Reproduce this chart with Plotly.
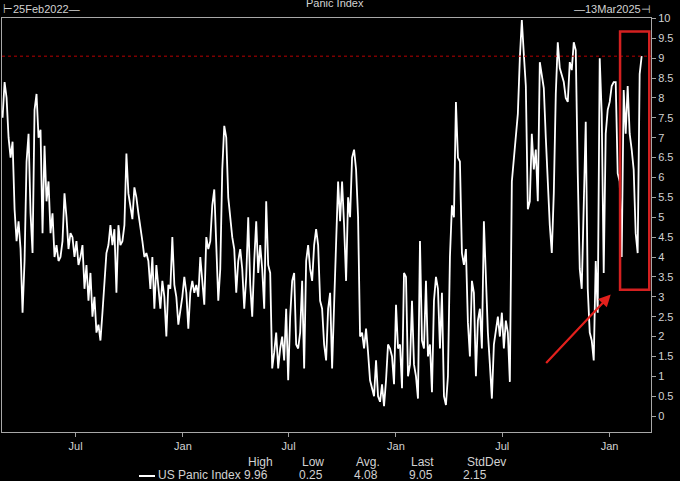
import pandas as pd
import plotly.graph_objects as go

# ---- data (US Panic Index, roughly every 3.4 days) ----
seg_2022a = [7.5, 8.4, 8.0, 7.0, 6.5, 6.9, 5.2, 4.4, 4.9, 4.2, 2.6, 3.9, 6.4, 7.1, 5.1, 4.1,
             7.7, 8.1, 7.0, 7.2, 4.6, 6.8, 5.4, 5.9, 4.6, 5.1, 4.0, 4.3, 3.9, 4.0, 4.4, 5.6,
             5.0, 4.2, 4.6, 4.5, 4.0, 4.4, 3.8, 4.0, 4.3, 3.2, 3.8, 2.9, 3.6, 2.5, 3.0, 2.1,
             2.3, 1.9, 2.6, 3.3, 4.1, 4.3, 4.8, 4.3, 4.7, 3.1, 4.8, 4.3, 4.4, 4.8, 6.6, 5.6,
             5.3, 4.95]
seg_2022b = [5.75, 5.5, 5.1, 4.8, 4.4, 4.0, 4.1, 3.9, 3.2, 4.0, 2.7, 3.8, 3.2, 2.7, 3.4, 3.0,
             2.0, 3.3, 3.2, 4.5, 3.3, 3.0, 2.3, 2.6, 3.0, 3.5, 3.1, 2.2, 3.1, 3.4, 3.1, 3.3,
             3.0, 4.0, 3.4, 2.8, 4.5, 4.2, 4.4, 5.3, 5.7, 4.2, 2.9, 3.7, 6.2, 7.3, 7.0, 5.5,
             4.9, 4.5, 4.2, 3.1, 3.9, 4.2, 3.7, 2.7, 3.5, 5.0, 3.3, 2.5, 3.9, 4.9, 3.6, 4.3,
             3.7]
seg_2023 = [2.7, 5.4, 3.8, 3.6, 1.2, 1.6, 2.1, 1.2, 1.7, 2.0, 1.4, 2.7, 0.9, 2.5, 3.4, 3.6,
            1.8, 1.7, 2.1, 3.4, 1.2, 3.9, 4.3, 3.7, 3.4, 4.3, 4.7, 4.3, 2.9, 2.7, 1.8, 1.4,
            2.7, 3.1, 1.2, 2.8, 4.6, 5.9, 4.9, 5.9, 4.8, 3.4, 5.5, 5.0, 6.5, 6.7, 6.2, 5.0,
            2.0, 2.1, 1.7, 2.2, 1.6, 0.9, 0.7, 0.5, 1.4, 0.5, 0.36, 0.8, 0.25, 0.9, 1.8, 1.7]
seg_2024a = [1.5, 0.8, 2.8, 1.7, 1.8, 0.7, 3.6, 3.5, 1.0, 1.3, 2.9, 1.3, 1.0, 0.44, 4.4, 1.9,
             1.7, 3.4, 1.5, 1.8, 0.6, 2.9, 3.5, 3.2, 1.7, 3.1, 0.5, 0.28, 1.0, 4.0, 5.3, 5.0,
             7.9, 6.5, 6.4, 4.1, 3.8, 4.2, 2.35, 1.5, 3.4, 3.1, 1.0, 2.4, 2.7, 1.7, 4.9, 3.4,
             2.1, 1.3, 0.44, 1.8, 2.2, 2.5, 2.0, 2.6, 1.7, 2.4, 2.1, 0.86, 5.9, 6.5, 7.0, 7.6,
             9.0, 9.96]
seg_2024b = [9.1, 8.3, 5.2, 5.4, 7.1, 6.2, 6.7, 5.4, 8.9, 8.5, 8.25, 7.0, 5.7, 4.8, 4.1, 5.6,
             8.1, 9.4, 8.75, 8.6, 8.4, 8.0, 7.9, 8.9, 8.7, 9.4, 9.2, 6.1, 3.7, 3.2, 5.5, 7.4,
             3.2, 2.1, 1.9, 1.4, 3.9, 2.6, 9.0, 7.6, 3.6, 7.1, 7.7, 7.9, 8.3, 8.4, 8.4, 6.1,
             5.9, 4.0, 8.2, 7.1, 8.3, 7.1, 6.7, 6.2, 4.6, 4.1, 8.6, 9.05]
panic_values = seg_2022a + seg_2022b + seg_2023 + seg_2024a + seg_2024b
first_date, last_date = "2022-02-26", "2025-02-25"
dates = pd.date_range(first_date, last_date, periods=len(panic_values))

x_tick_dates = ["2022-07-01", "2023-01-01", "2023-07-01", "2024-01-01", "2024-07-01", "2025-01-01"]
x_tick_text = ["Jul", "Jan", "Jul", "Jan", "Jul", "Jan"]
y_tick_vals = [i * 0.5 for i in range(21)]
y_tick_text = [("%g" % v) for v in y_tick_vals]

threshold = 9.05
stat_names = ["High", "Low", "Avg.", "Last", "StdDev"]
stat_values = ["9.96", "0.25", "4.08", "9.05", "2.15"]

W, H = 680, 481
L, R, T, B = 2, 29, 18, 49
pw, ph = W - L - R, H - T - B


def px_x(px):
    return (px - L) / pw


def px_y(py):
    return (H - B - py) / ph


FONT = "Liberation Sans, Arial, sans-serif"
TXT = "#d2d2d2"

fig = go.Figure()
fig.add_trace(go.Scatter(x=dates, y=panic_values, mode="lines",
                         line=dict(color="#ffffff", width=1.8),
                         name="US Panic Index", showlegend=False))

fig.update_layout(
    width=W, height=H,
    margin=dict(l=L, r=R, t=T, b=B, autoexpand=False),
    paper_bgcolor="#000000", plot_bgcolor="#000000",
    font=dict(family=FONT, color=TXT, size=11),
    showlegend=False,
)
fig.update_xaxes(type="date", range=["2022-02-25", "2025-03-13"],
                 tickvals=x_tick_dates, ticktext=x_tick_text,
                 ticks="outside", ticklen=4, tickcolor="#a0a0a0",
                 showline=True, linecolor="#a8a8a8", linewidth=1, mirror=True,
                 showgrid=False, zeroline=False, tickfont=dict(size=11, color=TXT))
fig.update_yaxes(side="right", range=[-0.4, 10.01],
                 tickvals=y_tick_vals, ticktext=y_tick_text,
                 ticks="outside", ticklen=4, tickcolor="#a0a0a0",
                 showline=True, linecolor="#a8a8a8", linewidth=1, mirror=True,
                 showgrid=False, zeroline=False, tickfont=dict(size=11, color=TXT))

# threshold dotted line
fig.add_shape(type="line", xref="paper", yref="y", x0=0, x1=1, y0=threshold, y1=threshold,
              line=dict(color="#b80000", width=1, dash="dot"))
# highlight box
fig.add_shape(type="rect", xref="x", yref="y", x0="2025-01-19", x1="2025-03-10",
              y0=3.18, y1=9.67, line=dict(color="#d42020", width=2.5))
# arrow
fig.add_annotation(x="2025-01-03", y=3.06, xref="x", yref="y", text="", showarrow=True,
                   ax=-66, ay=70, arrowhead=2, arrowsize=1.1, arrowwidth=2.2,
                   arrowcolor="#e3201c")

# header texts
fig.add_annotation(x=px_x(335), y=px_y(3), xref="paper", yref="paper", text="Panic Index",
                   showarrow=False, xanchor="center", yanchor="middle",
                   font=dict(size=11, color=TXT))
fig.add_annotation(x=px_x(1), y=px_y(9), xref="paper", yref="paper", text="⊢25Feb2022—",
                   showarrow=False, xanchor="left", yanchor="middle",
                   font=dict(size=11, color=TXT))
fig.add_annotation(x=px_x(653), y=px_y(9), xref="paper", yref="paper", text="—13Mar2025⊣",
                   showarrow=False, xanchor="right", yanchor="middle",
                   font=dict(size=11, color=TXT))

# legend table
fig.add_shape(type="line", xref="paper", yref="paper", x0=px_x(139), x1=px_x(155),
              y0=px_y(476), y1=px_y(476), line=dict(color="#ffffff", width=2))
fig.add_annotation(x=px_x(156), y=px_y(475), xref="paper", yref="paper",
                   text="US Panic Index", showarrow=False, xanchor="left", yanchor="middle",
                   font=dict(size=12, color=TXT))
head_centers = [260, 313, 368, 423, 486]
val_centers = [256, 311, 366, 421, 475]
for name, val, hc, vc in zip(stat_names, stat_values, head_centers, val_centers):
    fig.add_annotation(x=px_x(hc), y=px_y(462), xref="paper", yref="paper", text=name,
                       showarrow=False, xanchor="center", yanchor="middle",
                       font=dict(size=12, color=TXT))
    fig.add_annotation(x=px_x(vc), y=px_y(475), xref="paper", yref="paper", text=val,
                       showarrow=False, xanchor="center", yanchor="middle",
                       font=dict(size=12, color=TXT))

fig.write_html("out.html", config={"displayModeBar": False},
               post_script="document.body.style.margin='0';document.body.style.overflow='hidden';")
